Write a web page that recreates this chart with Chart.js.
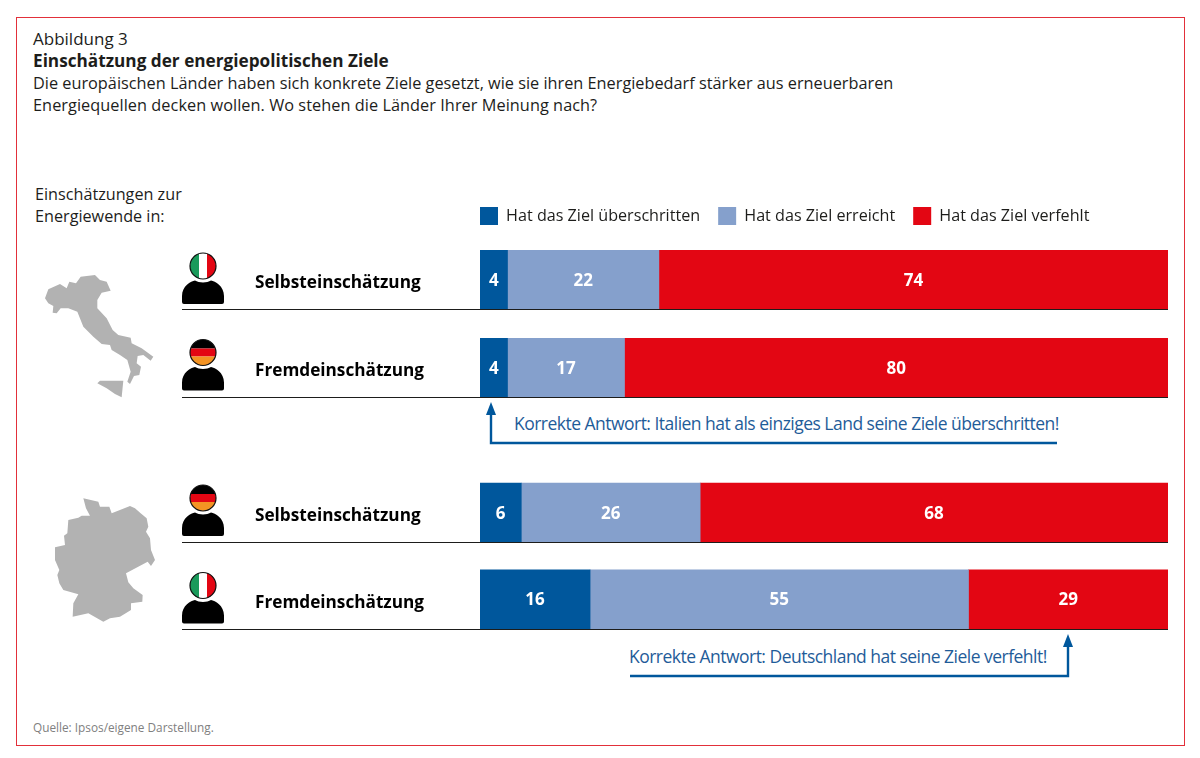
<!DOCTYPE html>
<html lang="de">
<head>
<meta charset="utf-8">
<title>Einschätzung der energiepolitischen Ziele</title>
<script src="https://cdn.jsdelivr.net/npm/chart.js@4"></script>
<style>
    html, body { margin: 0; padding: 0; background: #fff; }
    body { width: 1200px; height: 758px; position: relative; overflow: hidden; font-family: "Open Sans", sans-serif; color: #1d1d1b; }
    #frame { position: absolute; left: 16px; top: 17px; width: 1167px; height: 727px; border: 1px solid #e2303a; }
    .txt { position: absolute; white-space: nowrap; font-size: 16.3px; line-height: 22px; }
    .note { color: #1f5c99; font-size: 17.5px; letter-spacing: -0.52px; }
    canvas { position: absolute; left: 0; }
    svg { position: absolute; left: 0; top: 0; }
</style>
</head>
<body>
<div id="frame"></div>
<div class="txt" style="left:33px;top:28px;font-size:17px">Abbildung 3</div>
<div class="txt" style="left:33px;top:50px;font-size:17.2px;font-weight:700">Einschätzung der energiepolitischen Ziele</div>
<div class="txt" style="left:33px;top:72px">Die europäischen Länder haben sich konkrete Ziele gesetzt, wie sie ihren Energiebedarf stärker aus erneuerbaren</div>
<div class="txt" style="left:33px;top:94px;letter-spacing:0.05px">Energiequellen decken wollen. Wo stehen die Länder Ihrer Meinung nach?</div>
<div class="txt" style="left:35px;top:183px;font-size:16.2px">Einschätzungen zur</div>
<div class="txt" style="left:35px;top:205px;font-size:16.2px">Energiewende in:</div>
<div class="txt note" style="left:514px;top:412px">Korrekte Antwort: Italien hat als einziges Land seine Ziele überschritten!</div>
<div class="txt note" style="left:629px;top:645px">Korrekte Antwort: Deutschland hat seine Ziele verfehlt!</div>
<div class="txt" style="left:33px;top:716px;font-size:11.8px;color:#808080">Quelle: Ipsos/eigene Darstellung.</div>

<canvas id="italyChart" width="1200" height="232" style="top:190px"></canvas>
<canvas id="germanyChart" width="1200" height="194" style="top:459px"></canvas>

<svg width="1200" height="758" viewBox="0 0 1200 758">
    <defs>
        <clipPath id="headClip"><circle r="13"/></clipPath>
        <g id="body"><path fill="#000" d="M-21 36Q-21 38-19 38H19Q21 38 21 36V30C21 20 12 15 8 14.5C4 17-4 17-8 14.5C-12 15-21 20-21 30Z"/></g>
        <g id="personIT">
            <use href="#body"/>
            <g clip-path="url(#headClip)">
                <rect x="-13" y="-13" width="9" height="26" fill="#1a9a5b"/>
                <rect x="-4" y="-13" width="8" height="26" fill="#fff"/>
                <rect x="4" y="-13" width="9" height="26" fill="#e30613"/>
            </g>
            <circle r="13" fill="none" stroke="#111" stroke-width="1.2"/>
        </g>
        <g id="personDE">
            <use href="#body"/>
            <g clip-path="url(#headClip)">
                <rect x="-13" y="-13" width="26" height="9" fill="#000"/>
                <rect x="-13" y="-4" width="26" height="8" fill="#e30613"/>
                <rect x="-13" y="4" width="26" height="9" fill="#f39323"/>
            </g>
            <circle r="13" fill="none" stroke="#111" stroke-width="1.2"/>
        </g>
    </defs>

    <!-- Laender-Silhouetten -->
    <g transform="translate(40 270) scale(0.3333)" fill="#b2b2b2">
        <path d="M15 85L25 58L60 42L80 55L88 35L108 40L122 20L165 15L180 30L200 35L212 62L185 68L172 90L172 115L200 145L218 180L235 195L272 203L275 220L305 235L340 260L332 272L310 255L293 258L290 280L303 290L298 315L282 318L270 342L262 335L272 305L262 270L240 255L215 240L210 225L185 222L160 200L130 170L112 125L85 115L62 115L50 130L38 128L40 108L25 100Z"/>
        <path d="M172 340L180 332L250 332L245 382L225 372L200 355Z"/>
    </g>
    <g transform="translate(50 495) scale(0.3333)" fill="#b2b2b2">
        <path d="M100 10L145 20L150 35L178 35L185 55L240 33L255 40L272 55L290 70L295 95L288 110L300 130L303 165L315 195L303 213L293 200L228 235L235 262L250 280L278 300L277 320L243 325L243 345L210 365L180 370L160 380L115 355L68 365L70 325L85 298L40 285L28 265L22 240L28 225L15 195L15 157L45 150L42 122L52 115L55 75L85 68L95 62L120 62L108 40Z"/>
    </g>

    <!-- Personen mit Flagge -->
    <use href="#personIT" x="203" y="266"/>
    <use href="#personDE" x="203" y="352.5"/>
    <use href="#personDE" x="203" y="498"/>
    <use href="#personIT" x="203" y="585.5"/>

    <!-- Pfeile zu den korrekten Antworten -->
    <path d="M1057 443H491V410" fill="none" stroke="#00579c" stroke-width="2.4"/>
    <path d="M491 402L486 415H496Z" fill="#00579c"/>
    <path d="M630 676H1068V642" fill="none" stroke="#00579c" stroke-width="2.4"/>
    <path d="M1068 634L1063 647H1073Z" fill="#00579c"/>
</svg>

<script>
// =============================================
// DATA
// =============================================
const categories = ["Selbsteinschätzung", "Fremdeinschätzung"];
const seriesNames = ["Hat das Ziel überschritten", "Hat das Ziel erreicht", "Hat das Ziel verfehlt"];
const seriesColors = ["#00579c", "#85a0cc", "#e30613"];

const italyExceeded = [4, 4];
const italyReached = [22, 17];
const italyMissed = [74, 80];

const germanyExceeded = [6, 16];
const germanyReached = [26, 55];
const germanyMissed = [68, 29];

// =============================================
// PLUGINS
// =============================================

// white value inside each segment + black rule under each row
const rowDecor = {
    id: "rowDecor",
    afterDatasetsDraw(chart) {
        const { ctx, chartArea } = chart;
        ctx.save();
        chart.data.datasets.forEach((ds, i) => {
            chart.getDatasetMeta(i).data.forEach((bar, j) => {
                const from = Math.max(bar.base, chartArea.left);
                const to = Math.min(bar.x, chartArea.right);
                ctx.fillStyle = "#fff";
                ctx.font = "700 17px 'Open Sans'";
                ctx.textAlign = "center";
                ctx.textBaseline = "middle";
                ctx.fillText(ds.data[j], (from + to) / 2, bar.y + 1);
            });
        });
        chart.getDatasetMeta(0).data.forEach(bar => {
            const y = Math.round(bar.y + bar.height / 2) + 0.5;
            ctx.strokeStyle = "#1d1d1b";
            ctx.lineWidth = 1.2;
            ctx.beginPath();
            ctx.moveTo(182, y);
            ctx.lineTo(chartArea.right, y);
            ctx.stroke();
        });
        ctx.restore();
    }
};

// the legend sits over the bars, not over the whole canvas
const legendSpot = {
    id: "legendSpot",
    afterLayout(chart) {
        if (chart.legend && chart.options.plugins.legend.display) {
            chart.legend.left = 462;
            chart.legend.top = -1;
        }
    }
};

// =============================================
// RENDER CHARTS
// =============================================

function renderChart(id, exceeded, reached, missed, showLegend) {
    new Chart(document.getElementById(id), {
        type: "bar",
        data: {
            labels: categories,
            datasets: [exceeded, reached, missed].map((values, i) => ({
                label: seriesNames[i],
                data: values,
                backgroundColor: seriesColors[i],
                barThickness: 59
            }))
        },
        options: {
            indexAxis: "y",
            responsive: false,
            animation: false,
            devicePixelRatio: 1,
            layout: { padding: { left: 255, right: 32, top: 0, bottom: 0 } },
            scales: {
                x: { stacked: true, min: 0, max: 100, display: false },
                y: {
                    stacked: true,
                    grid: { display: false },
                    border: { display: false },
                    afterFit(scale) { scale.width = 225; },
                    ticks: {
                        crossAlign: "far",
                        labelOffset: 3.5,
                        color: "#000",
                        padding: 0,
                        font: { family: "'Open Sans'", size: 17.2, weight: "700" }
                    }
                }
            },
            plugins: {
                tooltip: { enabled: false },
                legend: {
                    display: showLegend,
                    position: "top",
                    align: "start",
                    labels: {
                        boxWidth: 18,
                        boxHeight: 18,
                        padding: 18,
                        color: "#1d1d1b",
                        font: { family: "'Open Sans'", size: 16.15 }
                    }
                }
            }
        },
        plugins: [rowDecor, legendSpot]
    });
}

renderChart("italyChart", italyExceeded, italyReached, italyMissed, true);
renderChart("germanyChart", germanyExceeded, germanyReached, germanyMissed, false);
</script>
</body>
</html>
